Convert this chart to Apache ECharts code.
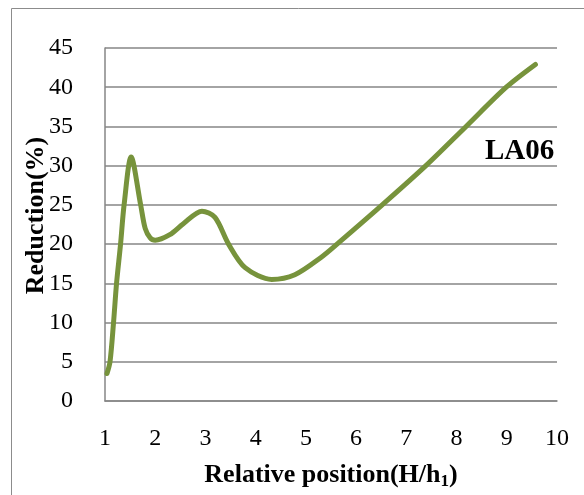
<!DOCTYPE html>
<html><head><meta charset="utf-8">
<script src="https://cdn.jsdelivr.net/npm/echarts@6/dist/echarts.min.js"></script>
<style>html,body{margin:0;padding:0;background:#fff}#c{width:584px;height:495px}</style>
</head><body><div id="c"></div>
<script>
var xValues   = [1.04, 1.10, 1.17, 1.23, 1.31, 1.38, 1.52, 1.71, 1.80, 1.90, 2.00, 2.29, 2.56, 2.93, 3.19, 3.46, 3.79, 4.32, 4.78, 5.30, 5.62, 6.52, 7.39, 8.19, 8.99, 9.57];
var reduction = [3.5, 5.0, 10.0, 15.0, 20.0, 25.0, 31.1, 25.0, 22.0, 20.8, 20.5, 21.2, 22.6, 24.2, 23.4, 20.0, 17.0, 15.5, 16.1, 18.3, 20.0, 25.0, 30.0, 35.0, 40.0, 42.9];
var xTicks = [1, 10, 1];
var yTicks = [0, 45, 5];
var seriesLabel = 'LA06';

var chart = echarts.init(document.getElementById('c'));
var font = 'Liberation Serif';
chart.setOption({
  animation: false,
  backgroundColor: '#fff',
  grid: {left: 105, right: 27, top: 48, bottom: 84.5},
  xAxis: {
    type: 'value', min: xTicks[0], max: xTicks[1], interval: xTicks[2],
    axisLine: {lineStyle: {color: '#868686', width: 1.5}},
    axisTick: {show: false},
    splitLine: {show: false},
    axisLabel: {color: '#000', fontFamily: font, fontSize: 24, margin: 26},
    name: '{a|Relative position(H/h}{s|1}{a|)}',
    nameLocation: 'middle', nameGap: 60, nameMoveOverlap: false,
    nameTextStyle: {rich: {
      a: {fontFamily: font, fontSize: 26, fontWeight: 'bold', color: '#000'},
      s: {fontFamily: font, fontSize: 17, fontWeight: 'bold', color: '#000', verticalAlign: 'bottom', padding: [12, 0, 0, 0]}
    }}
  },
  yAxis: {
    type: 'value', min: yTicks[0], max: yTicks[1], interval: yTicks[2],
    axisLine: {show: true, lineStyle: {color: '#868686', width: 1.5}},
    axisTick: {show: false},
    splitLine: {lineStyle: {color: '#868686', width: 1.5}},
    axisLabel: {color: '#000', fontFamily: font, fontSize: 24, margin: 32},
    name: 'Reduction(%)', nameLocation: 'middle', nameGap: 56, nameMoveOverlap: false,
    nameTextStyle: {fontFamily: font, fontSize: 26, fontWeight: 'bold', color: '#000', padding: [0, 0, 0, 18]}
  },
  graphic: [
    {type: 'rect', shape: {x: 11.5, y: 8.5, width: 600, height: 600}, style: {fill: 'none', stroke: '#8c8c8c', lineWidth: 1}, silent: true, z: -10},
    {type: 'text', x: 485, y: 152, style: {text: seriesLabel, fontFamily: font, fontSize: 29, fontWeight: 'bold', fill: '#000', textVerticalAlign: 'middle'}}
  ],
  series: [{
    type: 'line', smooth: 0.3, symbol: 'none',
    lineStyle: {color: '#77933C', width: 5, cap: 'round', join: 'round'},
    data: xValues.map(function (x, i) { return [x, reduction[i]]; })
  }]
});
</script></body></html>
